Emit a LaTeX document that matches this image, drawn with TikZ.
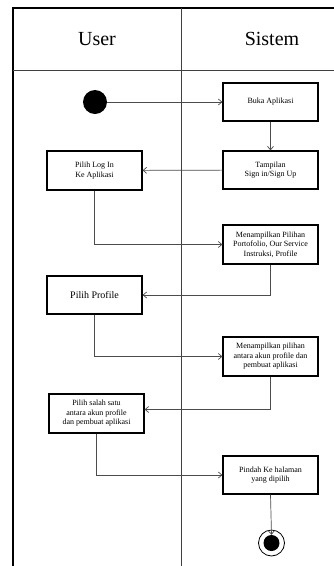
\documentclass[tikz,border=0pt]{standalone}
\usepackage{fontspec}
\setmainfont{Liberation Serif}
\usetikzlibrary{arrows.meta}
\begin{document}
\begin{tikzpicture}[x=1pt,y=-1pt,
  lane/.style={draw=black!75,line width=0.8pt},
  frame/.style={draw=black,line width=1.4pt},
  act/.style={draw=black,line width=1.2pt,minimum width=95pt,minimum height=38pt,
    inner sep=1pt,align=center,font=\fontsize{8}{9.5}\selectfont},
  flow/.style={draw=black!70,line width=0.7pt,-{Straight Barb[length=3.5pt,width=6pt]}},
]
\useasboundingbox (0,0) rectangle (334,566);
\fill[white] (0,0) rectangle (334,566);

% swimlane frame
\draw[frame] (13,566) -- (13,8) -- (336,8);
\draw[lane] (13,70) -- (336,70);
\draw[lane] (181,8) -- (181,566);
\node[font=\fontsize{20}{24}\selectfont] (huser) at (97,39) {User};
\node[font=\fontsize{20}{24}\selectfont] (hsys) at (272,39) {Sistem};

% activities
\node[circle,fill=black,minimum size=24pt,inner sep=0pt] (start) at (95,102) {};
\node[act] (buka) at (270.5,102) {Buka Aplikasi};
\node[act] (tampil) at (270.5,170) {Tampilan\\Sign in/Sign Up};
\node[act,minimum height=39pt] (login) at (94.5,170.5) {Pilih Log In\\Ke Aplikasi};
\node[act,minimum height=39pt] (menu) at (270.5,244.5) {Menampilkan Pilihan\\Portofolio, Our Service\\Instruksi, Profile};
\node[act,font=\fontsize{10}{12}\selectfont] (profile) at (94.5,295) {Pilih Profile};
\node[act,minimum height=39pt] (pilihan) at (270.5,356.5) {Menampilkan pilihan\\antara akun profile dan\\pembuat aplikasi};
\node[act,minimum height=39pt] (salah) at (96.5,413.5) {Pilih salah satu\\antara akun profile\\dan pembuat aplikasi};
\node[act] (pindah) at (270.5,475) {Pindah Ke halaman\\yang dipilih};
\node[circle,draw=black,line width=0.8pt,minimum size=26pt,inner sep=0pt] (end) at (271.5,543) {};
\node[circle,fill=black,minimum size=16pt,inner sep=0pt] (endin) at (end.center) {};

% control flow
\draw[flow] (start) -- (buka);
\draw[flow] (buka) -- (tampil);
\draw[flow] (tampil) -- (login);
\draw[flow] (login.south) |- (menu.west);
\draw[flow] (menu.south) |- (profile.east);
\draw[flow] (profile.south) |- (pilihan.west);
\draw[flow] (pilihan.south) |- ([yshift=4pt]salah.east);
\draw[flow] (salah.south) |- (pindah.west);
\draw[flow] (pindah.south) -- (endin.north);
\end{tikzpicture}
\end{document}
